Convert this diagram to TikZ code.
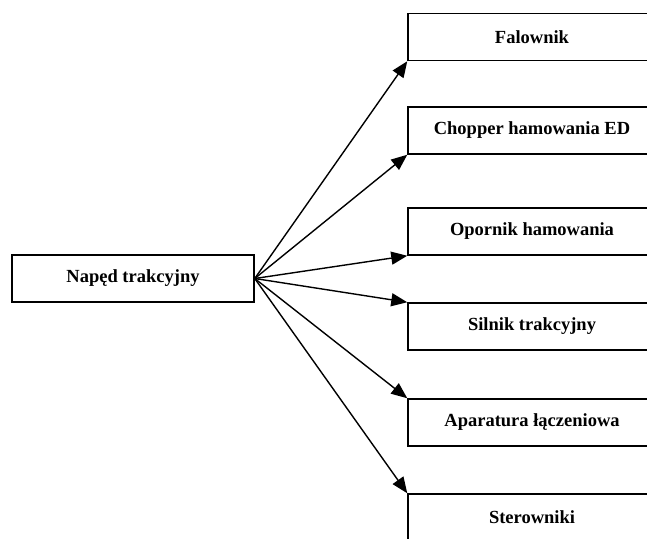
\documentclass[tikz,border=0pt]{standalone}
\usepackage{fontspec}
\setmainfont{Liberation Serif}
\usetikzlibrary{arrows.meta,positioning}

\begin{document}
\begin{tikzpicture}[
    x=1pt, y=-1pt,
    block/.style={rectangle, draw=black, line width=1.5pt, inner sep=0pt,
                  minimum width=248pt, minimum height=47pt, align=center,
                  font=\fontsize{18.5}{22}\selectfont\bfseries},
    link/.style={-{Triangle[length=16pt, width=13pt]}, line width=1.4pt}
]
    \clip (0,0) rectangle (647,538);
    % Source
    \node[block, minimum width=242pt] (naped) at (133,278.5) {Napęd trakcyjny};
    
    % Components
    \node[block] (falownik) at (532,37) {Falownik};
    \node[block] (chopper) at (532,130.5) {Chopper hamowania ED};
    \node[block] (opornik) at (532,231.5) {Opornik hamowania};
    \node[block] (silnik) at (532,326.5) {Silnik trakcyjny};
    \node[block] (aparatura) at (532,422.5) {Aparatura łączeniowa};
    \node[block] (sterowniki) at (532,517.5) {Sterowniki};
    
    % Arrows
    \foreach \n in {falownik, chopper, opornik}
        \draw[link] (naped.east) -- (\n.south west);
    \foreach \n in {silnik, aparatura, sterowniki}
        \draw[link] (naped.east) -- (\n.north west);
\end{tikzpicture}
\end{document}
